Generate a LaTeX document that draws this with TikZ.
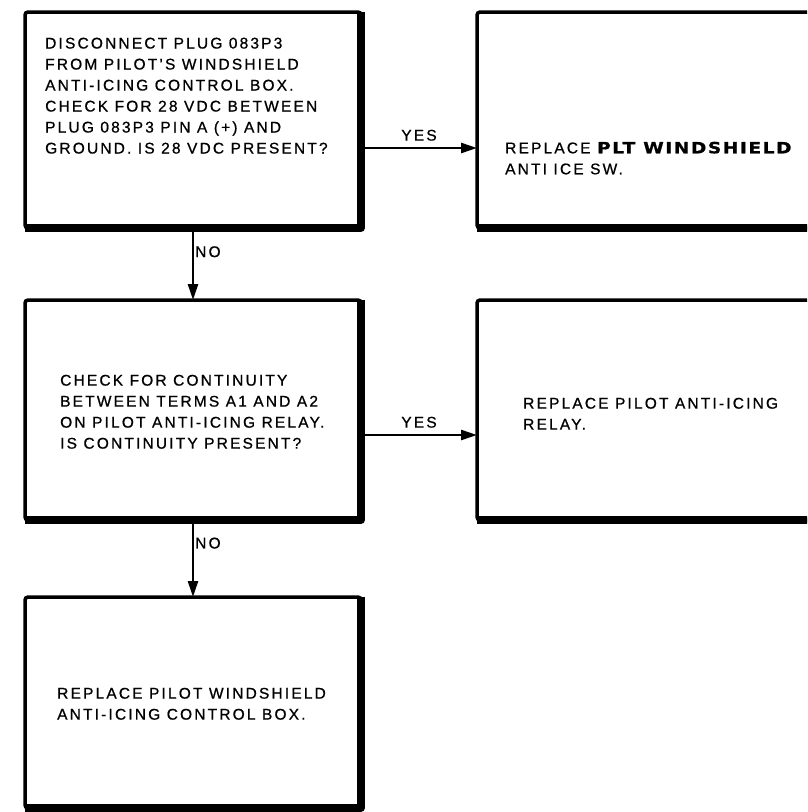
\documentclass[tikz,border=0pt]{standalone}
\usepackage{fontspec}
\setmainfont{Liberation Sans}[LetterSpace=14, FakeBold=0.8]
\newfontfamily\heavyfont{DejaVu Sans Bold}[FakeStretch=1.2, FakeBold=1, LetterSpace=10]
\usetikzlibrary{arrows.meta, positioning}
\tikzset{
  stepbox/.style   = {draw, line width=3.5pt, rounded corners=3pt,
                      minimum width=336pt, inner sep=0pt, outer sep=0pt},
  shadeedge/.style = {line width=7.5pt, line join=round},
  boxtext/.style   = {anchor=north west, align=left, inner sep=0pt,
                      font=\fontsize{15.5}{21}\selectfont},
  flow/.style      = {-{Triangle[length=16pt, width=10pt]}, line width=2.5pt},
  answer/.style    = {font=\fontsize{15.5}{18}\selectfont, inner sep=1pt},
}

\begin{document}
\begin{tikzpicture}[x=1pt, y=-1pt]
    \clip (0,0) rectangle (807,812);
    % Left column : checks
    \node[stepbox, minimum height=216pt, anchor=north west] (chk1) at (25,12) {};
    \node[stepbox, minimum height=220pt, below=72pt of chk1]  (chk2) {};
    \node[stepbox, minimum height=211pt, below=77pt of chk2]  (rep3) {};
    % Right column : replacements
    \node[stepbox, minimum height=216pt, right=116pt of chk1] (rep1) {};
    \node[stepbox, minimum height=220pt, right=116pt of chk2] (rep2) {};

    % heavy bottom / right edges
    \draw[shadeedge] (chk1.north east) -- (chk1.south east) -- (chk1.south west);
    \draw[shadeedge] (chk2.north east) -- (chk2.south east) -- (chk2.south west);
    \draw[shadeedge] (rep3.north east) -- (rep3.south east) -- (rep3.south west);
    \draw[shadeedge] (rep1.north east) -- (rep1.south east) -- (rep1.south west);
    \draw[shadeedge] (rep2.north east) -- (rep2.south east) -- (rep2.south west);

    \node[boxtext] (chk1txt) at ([shift={(20pt,-25.5pt)}]chk1.north west)
      {DISCONNECT PLUG 083P3\\FROM PILOT'S WINDSHIELD\\ANTI-ICING CONTROL BOX.\\%
       CHECK FOR 28 VDC BETWEEN\\PLUG 083P3 PIN A (+) AND\\GROUND. IS 28 VDC PRESENT?};
    \node[boxtext] (chk2txt) at ([shift={(35pt,-74.6pt)}]chk2.north west)
      {CHECK FOR CONTINUITY\\BETWEEN TERMS A1 AND A2\\ON PILOT ANTI-ICING RELAY.\\%
       IS CONTINUITY PRESENT?};
    \node[boxtext] (rep3txt) at ([shift={(32pt,-90.6pt)}]rep3.north west)
      {REPLACE PILOT WINDSHIELD\\ANTI-ICING CONTROL BOX.};
    \node[boxtext] (rep1txt) at ([shift={(28pt,-129.6pt)}]rep1.north west)
      {REPLACE {\heavyfont PLT WINDSHIELD}\\ANTI ICE SW.};
    \node[boxtext] (rep2txt) at ([shift={(46pt,-97.6pt)}]rep2.north west)
      {REPLACE PILOT ANTI-ICING\\RELAY.};

    \draw[flow] ([yshift=-28pt]chk1.east) -- node[answer, midway, above=5pt] (yes1) {YES}
                ([yshift=-28pt]rep1.west);
    \draw[flow] ([yshift=-25pt]chk2.east) -- node[answer, midway, above=5pt] (yes2) {YES}
                ([yshift=-25pt]rep2.west);
    \draw[flow] (chk1.south) -- node[answer, pos=0.33, anchor=west] (no1) {NO} (chk2.north);
    \draw[flow] (chk2.south) -- node[answer, pos=0.3, anchor=west] (no2) {NO} (rep3.north);
\end{tikzpicture}
\end{document}
